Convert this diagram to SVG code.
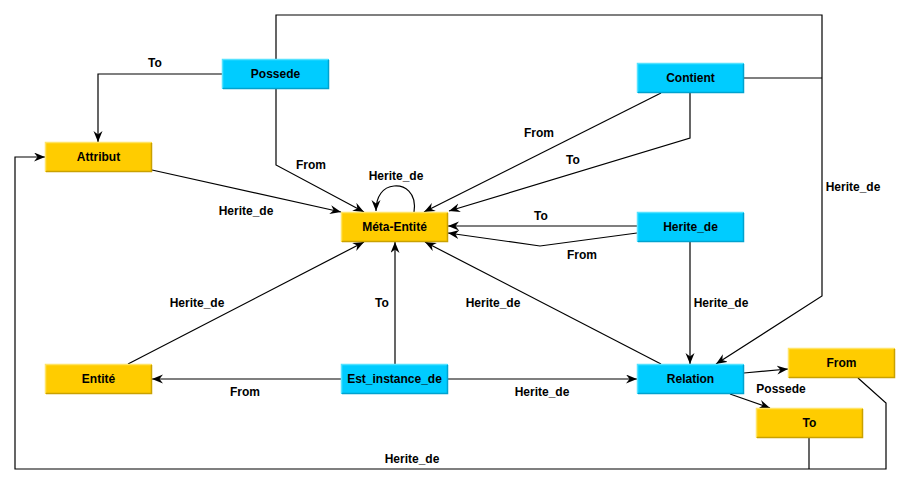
<svg xmlns="http://www.w3.org/2000/svg" width="911" height="485" viewBox="0 0 911 485">
<defs>
<marker id="arr" markerUnits="userSpaceOnUse" markerWidth="12" markerHeight="10" refX="11" refY="4.5" orient="auto">
<path d="M0,0 L11,4.5 L0,9 L3.5,4.5 z" fill="#000"/>
</marker>
<style>
.bg{fill:#fff}
.e{fill:none;stroke:#000;stroke-width:1.2}
.a{marker-end:url(#arr)}
.lbl{font-family:"Liberation Sans",Arial,sans-serif;font-weight:bold;font-size:12px;fill:#000;text-anchor:middle;dominant-baseline:central}
.y{fill:#FFCC00}
.c{fill:#00CCFF}
.yl{fill:none;stroke:#FFE466;stroke-width:1.5}
.yd{fill:none;stroke:#C9A100;stroke-width:1.5}
.cl{fill:none;stroke:#55E2FF;stroke-width:1.5}
.cd{fill:none;stroke:#00A2CF;stroke-width:1.5}
</style>
</defs>
<rect class="bg" x="0" y="0" width="911" height="485"/>
<g id="connectors">
<polyline class="e a" points="222,74 98,74 98,142"/>
<text class="lbl" x="155" y="63">To</text>
<polyline class="e a" points="276,89 276,165 364,212"/>
<text class="lbl" x="311" y="165">From</text>
<polyline class="e a" points="276,59 276,15 822,15 822,296 716,364"/>
<line class="e" x1="744" y1="78" x2="822" y2="78"/>
<text class="lbl" x="853" y="187">Herite_de</text>
<line class="e a" x1="152" y1="170" x2="341" y2="212"/>
<text class="lbl" x="246" y="211">Herite_de</text>
<path class="e a" d="M414,212 C417,192 404,185 394,186 C383,187 376,196 376,211"/>
<text class="lbl" x="396" y="176">Herite_de</text>
<line class="e a" x1="661" y1="93" x2="424" y2="212"/>
<text class="lbl" x="539" y="133">From</text>
<polyline class="e a" points="690,93 690,138 449,211"/>
<text class="lbl" x="573" y="160">To</text>
<line class="e a" x1="637" y1="226" x2="448" y2="226"/>
<text class="lbl" x="541" y="216">To</text>
<polyline class="e a" points="637,233 540,246 448,233"/>
<text class="lbl" x="582" y="255">From</text>
<line class="e a" x1="690" y1="242" x2="690" y2="364"/>
<text class="lbl" x="721" y="303">Herite_de</text>
<line class="e a" x1="661" y1="364" x2="425" y2="242"/>
<text class="lbl" x="493" y="303">Herite_de</text>
<line class="e a" x1="128" y1="364" x2="364" y2="242"/>
<text class="lbl" x="197" y="303">Herite_de</text>
<line class="e a" x1="395" y1="364" x2="395" y2="242"/>
<text class="lbl" x="382" y="303">To</text>
<line class="e a" x1="341" y1="379" x2="152" y2="379"/>
<text class="lbl" x="245" y="392">From</text>
<line class="e a" x1="448" y1="379" x2="637" y2="379"/>
<text class="lbl" x="542" y="392">Herite_de</text>
<line class="e a" x1="744" y1="373" x2="788" y2="369"/>
<line class="e a" x1="730" y1="394" x2="770" y2="408"/>
<text class="lbl" x="781" y="389">Possede</text>
<polyline class="e a" points="858,378 886,403 886,469 15,469 15,157 45,157"/>
<line class="e" x1="809" y1="438" x2="809" y2="469"/>
<text class="lbl" x="412" y="459">Herite_de</text>
</g>
<g id="attribut">
<rect class="y" x="45" y="142" width="107" height="30"/>
<polyline class="yl" points="45.5,171.5 45.5,142.5 151.5,142.5"/>
<polyline class="yd" points="46,171.5 151.5,171.5 151.5,143"/>
<text class="lbl" x="98.5" y="157">Attribut</text>
</g>
<g id="possede">
<rect class="c" x="222" y="59" width="107" height="30"/>
<polyline class="cl" points="222.5,88.5 222.5,59.5 328.5,59.5"/>
<polyline class="cd" points="223,88.5 328.5,88.5 328.5,60"/>
<text class="lbl" x="275.5" y="74">Possede</text>
</g>
<g id="meta-entite">
<rect class="y" x="341" y="212" width="107" height="30"/>
<polyline class="yl" points="341.5,241.5 341.5,212.5 447.5,212.5"/>
<polyline class="yd" points="342,241.5 447.5,241.5 447.5,213"/>
<text class="lbl" x="394.5" y="227">Méta-Entité</text>
</g>
<g id="contient">
<rect class="c" x="637" y="63" width="107" height="30"/>
<polyline class="cl" points="637.5,92.5 637.5,63.5 743.5,63.5"/>
<polyline class="cd" points="638,92.5 743.5,92.5 743.5,64"/>
<text class="lbl" x="690.5" y="78">Contient</text>
</g>
<g id="herite-de">
<rect class="c" x="637" y="212" width="107" height="30"/>
<polyline class="cl" points="637.5,241.5 637.5,212.5 743.5,212.5"/>
<polyline class="cd" points="638,241.5 743.5,241.5 743.5,213"/>
<text class="lbl" x="690.5" y="227">Herite_de</text>
</g>
<g id="entite">
<rect class="y" x="45" y="364" width="107" height="30"/>
<polyline class="yl" points="45.5,393.5 45.5,364.5 151.5,364.5"/>
<polyline class="yd" points="46,393.5 151.5,393.5 151.5,365"/>
<text class="lbl" x="98.5" y="379">Entité</text>
</g>
<g id="est-instance-de">
<rect class="c" x="341" y="364" width="107" height="30"/>
<polyline class="cl" points="341.5,393.5 341.5,364.5 447.5,364.5"/>
<polyline class="cd" points="342,393.5 447.5,393.5 447.5,365"/>
<text class="lbl" x="394.5" y="379">Est_instance_de</text>
</g>
<g id="relation">
<rect class="c" x="637" y="364" width="107" height="30"/>
<polyline class="cl" points="637.5,393.5 637.5,364.5 743.5,364.5"/>
<polyline class="cd" points="638,393.5 743.5,393.5 743.5,365"/>
<text class="lbl" x="690.5" y="379">Relation</text>
</g>
<g id="from">
<rect class="y" x="788" y="348" width="107" height="30"/>
<polyline class="yl" points="788.5,377.5 788.5,348.5 894.5,348.5"/>
<polyline class="yd" points="789,377.5 894.5,377.5 894.5,349"/>
<text class="lbl" x="841.5" y="363">From</text>
</g>
<g id="to">
<rect class="y" x="756" y="408" width="107" height="30"/>
<polyline class="yl" points="756.5,437.5 756.5,408.5 862.5,408.5"/>
<polyline class="yd" points="757,437.5 862.5,437.5 862.5,409"/>
<text class="lbl" x="809.5" y="423">To</text>
</g>
</svg>
